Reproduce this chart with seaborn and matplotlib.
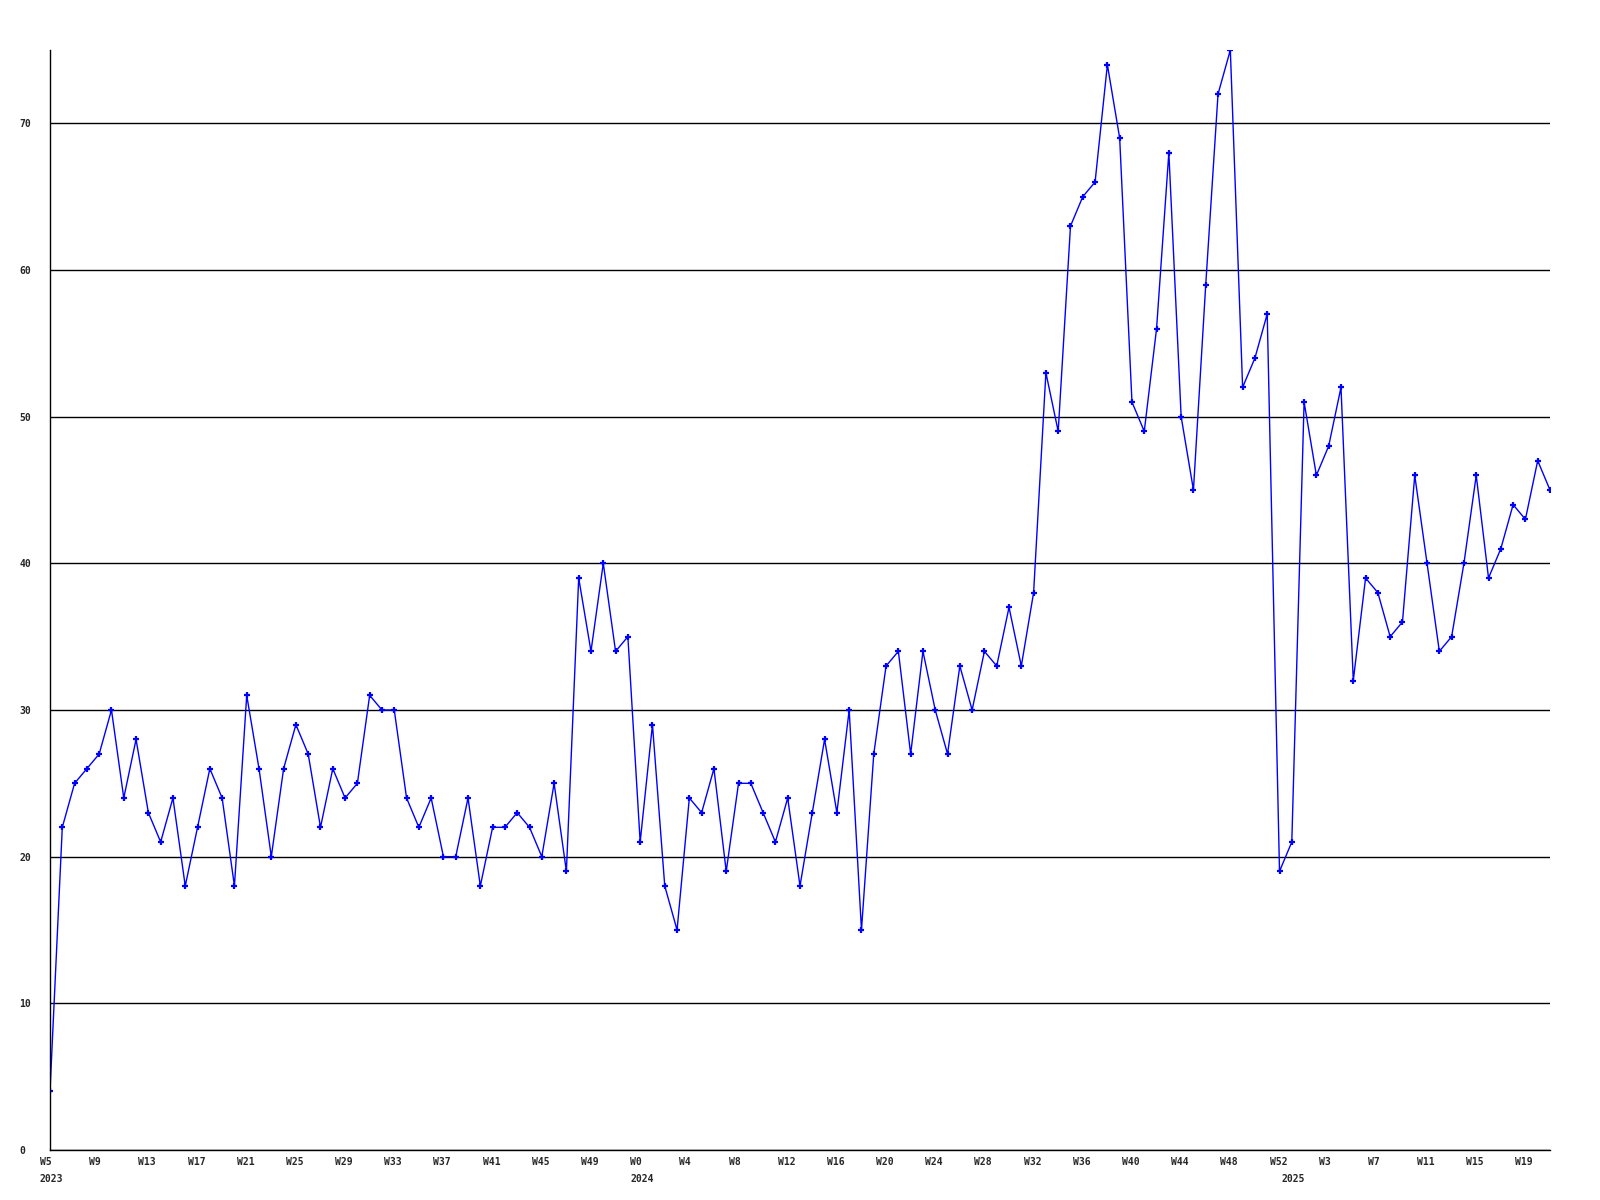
import pandas as pd
import matplotlib.pyplot as plt
import matplotlib.transforms as mtransforms
import seaborn as sns

# valores semanais
weeks_2023 = list(range(5, 53))
values_2023 = [4, 22, 25, 26, 27, 30, 24, 28, 23, 21, 24, 18, 22, 26, 24, 18,
               31, 26, 20, 26, 29, 27, 22, 26, 24, 25, 31, 30, 30, 24, 22, 24,
               20, 20, 24, 18, 22, 22, 23, 22, 20, 25, 19, 39, 34, 40, 34, 35]
weeks_2024 = list(range(0, 53))
values_2024 = [21, 29, 18, 15, 24, 23, 26, 19, 25, 25, 23, 21, 24, 18, 23, 28,
               23, 30, 15, 27, 33, 34, 27, 34, 30, 27, 33, 30, 34, 33, 37, 33,
               38, 53, 49, 63, 65, 66, 74, 69, 51, 49, 56, 68, 50, 45, 59, 72,
               75, 52, 54, 57, 19]
weeks_2025 = list(range(0, 22))
values_2025 = [21, 51, 46, 48, 52, 32, 39, 38, 35, 36, 46, 40, 34, 35, 40, 46,
               39, 41, 44, 43, 47, 45]
years = ["2023", "2024", "2025"]
y_ticks = [0, 10, 20, 30, 40, 50, 60, 70]

sns.set_theme(style="white")
plt.rcParams['font.family'] = ['DejaVu Sans Mono']

rows = []
for year, weeks, values in zip(years, [weeks_2023, weeks_2024, weeks_2025],
                               [values_2023, values_2024, values_2025]):
    for w, v in zip(weeks, values):
        rows.append({'year': year, 'week': w, 'value': v})
df = pd.DataFrame(rows)
df['idx'] = range(len(df))

fig = plt.figure(figsize=(16, 12), dpi=100)
ax = fig.add_axes([0.03125, 0.0417, 0.9375, 0.9166])

sns.lineplot(data=df, x='idx', y='value', ax=ax, color='#0000FF', linewidth=1,
             marker='+', markersize=5, markeredgewidth=1.6, markeredgecolor='#0000FF')

ax.set_xlim(0, len(df) - 1)
ax.set_ylim(0, 75)
ax.set_xlabel('')
ax.set_ylabel('')

# eixos e grade
for side in ['top', 'right']:
    ax.spines[side].set_visible(False)
for side in ['left', 'bottom']:
    ax.spines[side].set_color('black')
    ax.spines[side].set_linewidth(1)
ax.yaxis.grid(True, color='black', linewidth=1)
ax.xaxis.grid(False)

ax.set_yticks(y_ticks)
ax.set_yticklabels([str(t) for t in y_ticks], fontsize=7, fontweight='bold')
for lbl in ax.get_yticklabels():
    lbl.set_ha('left')
ax.tick_params(axis='y', length=0, pad=22)

# rótulos das semanas (a cada 4) e do ano, alinhados à esquerda com deslocamento
ax.set_xticks(df['idx'][::4])
ax.set_xticklabels([])
ax.tick_params(axis='x', length=0)
offset = mtransforms.ScaledTranslation(-10 / 100, 0, fig.dpi_scale_trans)
trans = mtransforms.blended_transform_factory(ax.transData, ax.transAxes) + offset
for _, r in df[::4].iterrows():
    ax.text(r['idx'], -0.006, 'W%d' % r['week'], transform=trans, fontsize=7,
            fontweight='bold', ha='left', va='top')
for year in years:
    first = df[df['year'] == year]['idx'].iloc[0]
    ax.text(first, -0.0215, year, transform=trans, fontsize=7, fontweight='bold',
            ha='left', va='top')

plt.savefig('out.png', dpi=100, facecolor='white')
plt.close()
